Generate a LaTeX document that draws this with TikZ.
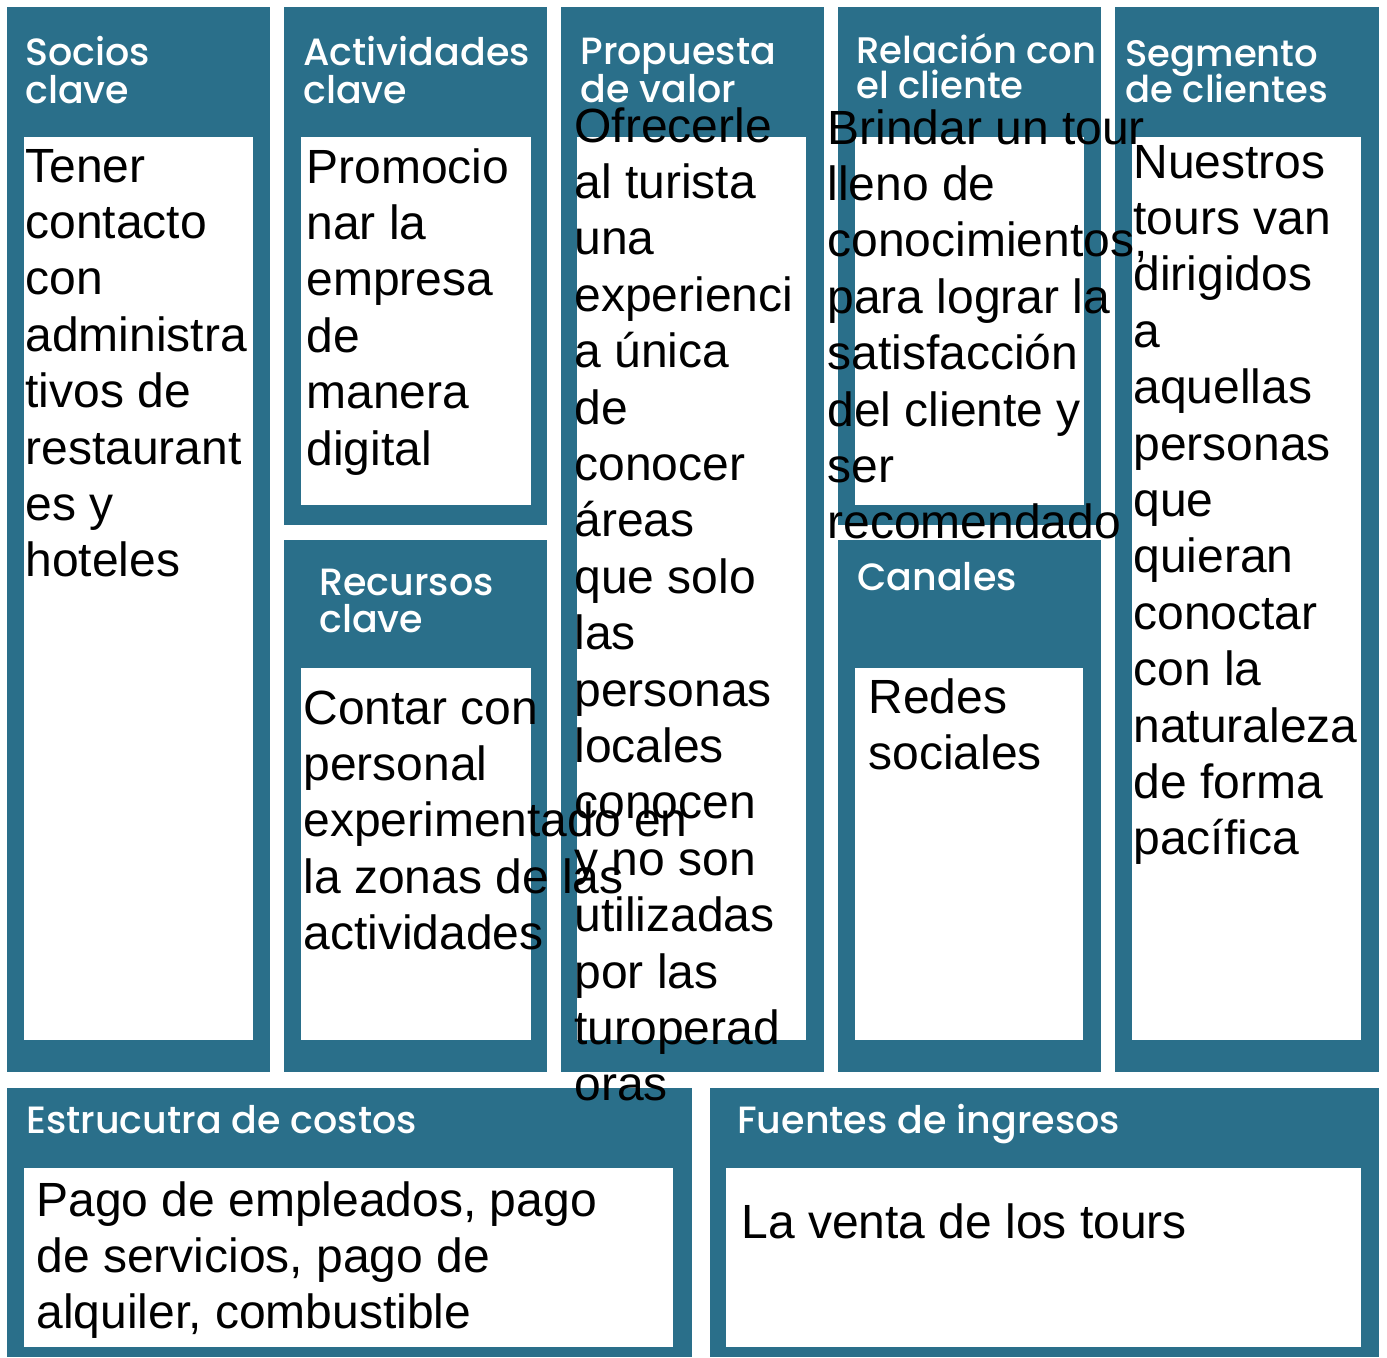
\documentclass[tikz,border=0pt]{standalone}
\usepackage{fontspec}
\setmainfont{Liberation Sans}
\newfontfamily\headfont{Poppins Medium}
\definecolor{panelblue}{HTML}{2A6F8A}
\newcommand\lns[2]{\vtop{\baselineskip=#1\lineskiplimit=-100pt\lineskip=0pt\halign{##\hfil\cr#2\crcr}}}
\tikzset{
  panel/.style={fill=panelblue},
  innerbox/.style={fill=white},
  head/.style={anchor=base west, inner sep=0pt, text=white, font=\headfont\fontsize{19}{19}\selectfont},
  headsmall/.style={head, font=\headfont\fontsize{18.5}{19}\selectfont},
  body/.style={anchor=base west, inner sep=0pt, text=black, font=\fontsize{24}{28.2}\selectfont}
}
\begin{document}
\begin{tikzpicture}[x=0.5pt,y=-0.5pt]
\useasboundingbox[fill=white] (0,0) rectangle (1387,1357);
% panels
\path[panel] (7,7) rectangle (270,1072);
\path[panel] (284,7) rectangle (547,525);
\path[panel] (284,540) rectangle (547,1072);
\path[panel] (561,7) rectangle (824,1072);
\path[panel] (838,7) rectangle (1101,525);
\path[panel] (838,540) rectangle (1101,1072);
\path[panel] (1115,7) rectangle (1379,1072);
\path[panel] (7,1088) rectangle (692,1357);
\path[panel] (710,1088) rectangle (1379,1357);
% white boxes
\path[innerbox] (24,137) rectangle (253,1040);
\path[innerbox] (301,137) rectangle (531,505);
\path[innerbox] (301,668) rectangle (531,1040);
\path[innerbox] (577,137) rectangle (806,1040);
\path[innerbox] (855,137) rectangle (1084,505);
\path[innerbox] (855,668) rectangle (1083,1040);
\path[innerbox] (1132,137) rectangle (1361,1040);
\path[innerbox] (24,1168) rectangle (673,1347);
\path[innerbox] (726,1168) rectangle (1361,1347);
% headings
\node[head] (hsocios) at (25,65) {\lns{19pt}{Socios\cr clave}};
\node[head] (hactiv) at (303,65) {\lns{19pt}{Actividades\cr clave}};
\node[head] (hprop) at (580,64) {\lns{19pt}{Propuesta\cr de valor}};
\node[headsmall] (hrel) at (856,63) {\lns{17.75pt}{Relación con\cr el cliente}};
\node[headsmall] (hseg) at (1125,66) {\lns{18pt}{Segmento\cr de clientes}};
\node[head] (hrec) at (319,595) {\lns{18.5pt}{Recursos\cr clave}};
\node[head] (hcan) at (857,590) {Canales};
\node[head] (hcost) at (26,1133) {Estrucutra de costos};
\node[head] (hfuen) at (737,1133) {Fuentes de ingresos};
% body texts
\node[body] (tsocios) at (25,182) {\lns{28.2pt}{Tener\cr contacto\cr con\cr administra\cr tivos de\cr restaurant\cr es y\cr hoteles}};
\node[body] (tactiv) at (306,183) {\lns{28.2pt}{Promocio\cr nar la\cr empresa\cr de\cr manera\cr digital}};
\node[body] (tprop) at (574,142) {\lns{28.2pt}{Ofrecerle\cr al turista\cr una\cr experienci\cr a única\cr de\cr conocer\cr áreas\cr que solo\cr las\cr personas\cr locales\cr conocen\cr y no son\cr utilizadas\cr por las\cr turoperad\cr oras}};
\node[body] (trel) at (827,144) {\lns{28.2pt}{Brindar un tour\cr lleno de\cr conocimientos,\cr para lograr la\cr satisfacción\cr del cliente y\cr ser\cr recomendado}};
\node[body] (tseg) at (1133,178) {\lns{28.2pt}{Nuestros\cr tours van\cr dirigidos\cr a\cr aquellas\cr personas\cr que\cr quieran\cr conoctar\cr con la\cr naturaleza\cr de forma\cr pacífica}};
\node[body] (trec) at (303,724) {\lns{28.2pt}{Contar con\cr personal\cr experimentado en\cr la zonas de las\cr actividades}};
\node[body] (tcan) at (868,713) {\lns{28.2pt}{Redes\cr sociales}};
\node[body] (tcost) at (36,1216) {\lns{28.2pt}{Pago de empleados, pago\cr de servicios, pago de\cr alquiler, combustible}};
\node[body] (tfuen) at (741,1238) {La venta de los tours};
\end{tikzpicture}
\end{document}
